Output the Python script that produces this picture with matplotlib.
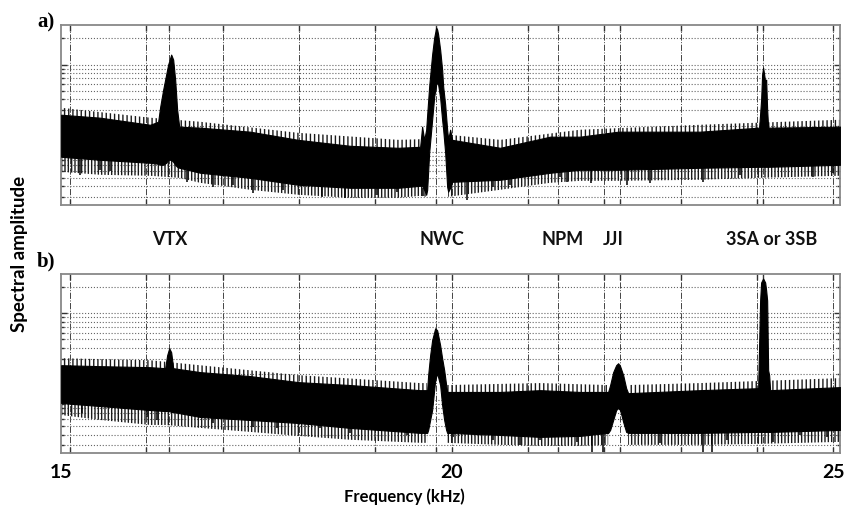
import numpy as np
import matplotlib.pyplot as plt
from matplotlib.ticker import LogLocator, NullFormatter, FixedLocator, FixedFormatter
from matplotlib.transforms import ScaledTranslation, blended_transform_factory

# spectrum envelope (frequency kHz, amplitude a.u.)
freq_a = [14.882, 15.393, 16.048, 16.153, 16.180, 16.219, 16.258, 16.284, 16.324, 16.350,
          16.376, 16.402, 16.429, 16.704, 17.359, 17.988, 18.670, 19.299, 19.587, 19.613,
          19.640, 19.666, 19.679, 19.705, 19.744, 19.771, 19.797, 19.810, 19.823, 19.849,
          19.875, 19.889, 19.915, 19.941, 19.954, 19.980, 20.007, 20.636, 21.291, 21.684,
          22.182, 23.256, 24.030, 24.056, 24.069, 24.082, 24.096, 24.109, 24.122, 24.135,
          24.148, 25.092]
upper_a = [0.266, 0.246, 0.204, 0.221, 0.329, 0.516, 0.767, 1.000, 1.303, 1.142,
           0.673, 0.304, 0.194, 0.189, 0.170, 0.137, 0.117, 0.111, 0.114, 0.194,
           0.137, 0.179, 0.266, 0.559, 1.303, 2.043, 2.662, 2.525, 2.214, 1.487,
           0.876, 0.559, 0.347, 0.179, 0.137, 0.179, 0.137, 0.111, 0.149, 0.149,
           0.170, 0.170, 0.189, 0.396, 0.767, 0.924, 0.767, 0.638, 0.673, 0.304,
           0.189, 0.194]
lower_a = [0.0876, 0.0809, 0.0747, 0.0728, 0.0709, 0.0709, 0.0747, 0.0809, 0.0809, 0.0767,
           0.0709, 0.0672, 0.0655, 0.0574, 0.0502, 0.0418, 0.0386, 0.0386, 0.0407, 0.0407,
           0.0366, 0.0321, 0.0366, 0.0974, 0.233, 0.429, 0.589, 0.621, 0.589, 0.418,
           0.233, 0.179, 0.0974, 0.0396, 0.0348, 0.0386, 0.0452, 0.0477, 0.0574, 0.0621,
           0.0621, 0.0655, 0.0672, 0.0672, 0.0672, 0.0672, 0.0672, 0.0672, 0.0672, 0.0672,
           0.0672, 0.0709]
# how far the dense downward noise reaches below the band, panel a (one list per stretch)
fringe_f_a = [[14.882, 15.393, 16.048, 16.429, 16.704, 17.359, 17.988, 18.670, 19.299, 19.587, 19.666],
              [19.954, 20.636, 21.291, 21.684, 22.182, 23.256, 24.030, 25.092]]
fringe_v_a = [[0.0589, 0.0544, 0.0530, 0.0502, 0.0440, 0.0366, 0.0321, 0.0296, 0.0296, 0.0312, 0.0304],
              [0.0304, 0.0366, 0.0440, 0.0464, 0.0464, 0.0477, 0.0502, 0.0530]]
# how far the noise reaches above the band, panel a
top_f_a = [[14.882, 16.048, 16.704, 17.988, 19.299, 19.666],
           [19.954, 20.636, 21.684, 23.256, 25.092]]
top_v_a = [[0.320, 0.246, 0.221, 0.165, 0.137, 0.140],
           [0.157, 0.137, 0.179, 0.204, 0.233]]
# deepest single downward excursions, panel a
spike_f_a = [15.13, 15.39, 15.52, 16.53, 16.87, 17.14, 17.40, 17.79, 18.30, 18.60,
             19.02, 19.29, 19.63, 20.20, 20.54, 20.77, 21.42, 21.51, 21.82, 22.30,
             22.60, 23.30, 23.78, 24.74, 25.00]
spike_v_a = [0.0544, 0.0621, 0.0600, 0.0452, 0.0396, 0.0418, 0.0338, 0.0366, 0.0305, 0.0296,
             0.0321, 0.0348, 0.0313, 0.0280, 0.0396, 0.0418, 0.0515, 0.0452, 0.0440, 0.0418,
             0.0440, 0.0452, 0.0544, 0.0515, 0.0574]

# spectrum envelope
freq_b = [14.882, 15.393, 16.048, 16.245, 16.271, 16.298, 16.324, 16.350, 16.704, 17.359,
          17.988, 18.670, 19.587, 19.679, 19.692, 19.718, 19.744, 19.784, 19.810, 19.849,
          19.875, 19.902, 19.928, 19.941, 20.636, 21.160, 21.684, 22.051, 22.077, 22.117,
          22.156, 22.182, 22.208, 22.248, 22.287, 22.313, 23.256, 24.017, 24.043, 24.056,
          24.082, 24.109, 24.122, 24.135, 24.148, 24.161, 24.174, 25.092]
upper_b = [0.2525, 0.246, 0.2394, 0.2332, 0.329, 0.396, 0.356, 0.2332, 0.210, 0.189,
           0.161, 0.149, 0.130, 0.130, 0.194, 0.329, 0.490, 0.673, 0.638, 0.429,
           0.304, 0.221, 0.149, 0.124, 0.124, 0.130, 0.124, 0.124, 0.149, 0.210,
           0.2525, 0.266, 0.246, 0.194, 0.137, 0.120, 0.130, 0.137, 1.411, 2.271,
           2.525, 2.271, 1.838, 1.411, 0.221, 0.194, 0.130, 0.141]
lower_b = [0.0924, 0.0853, 0.0767, 0.0747, 0.0747, 0.0747, 0.0728, 0.0728, 0.0638, 0.0589,
           0.0544, 0.0477, 0.0418, 0.0418, 0.0452, 0.0589, 0.0767, 0.170, 0.204, 0.149,
           0.0876, 0.0589, 0.0452, 0.0418, 0.0396, 0.0376, 0.0386, 0.0418, 0.0452, 0.0589,
           0.0767, 0.0809, 0.0767, 0.0559, 0.0429, 0.0418, 0.0418, 0.0429, 0.0429, 0.0429,
           0.0429, 0.0429, 0.0429, 0.0429, 0.0429, 0.0429, 0.0429, 0.0452]
fringe_f_b = [[14.882, 15.393, 16.048, 16.245, 16.704, 17.359, 17.988, 18.670, 19.587, 19.679],
              [19.941, 20.636, 21.160, 21.684, 22.051],
              [22.313, 23.256, 24.017, 25.092]]
fringe_v_b = [[0.0672, 0.0589, 0.0516, 0.0516, 0.0477, 0.0429, 0.0386, 0.0348, 0.0321, 0.0321],
              [0.0321, 0.0304, 0.0296, 0.0296, 0.0304],
              [0.0304, 0.0304, 0.0312, 0.0329]]
top_f_b = [[14.882, 16.048, 17.988, 19.587, 19.679],
           [19.941, 21.160, 22.051],
           [22.313, 23.256, 25.092]]
top_v_b = [[0.304, 0.288, 0.194, 0.157, 0.157],
           [0.149, 0.157, 0.149],
           [0.149, 0.157, 0.179]]
spike_f_b = [15.16, 16.01, 16.14, 16.87, 17.40, 17.71, 18.28, 18.67, 19.42, 20.02,
             20.54, 20.90, 21.16, 21.64, 21.84, 21.99, 22.73, 23.30, 23.41, 23.61,
             24.21, 24.57, 24.92]
spike_v_b = [0.0709, 0.0638, 0.0591, 0.0544, 0.0490, 0.0477, 0.0477, 0.0418, 0.0397, 0.0376,
             0.0348, 0.0304, 0.0348, 0.0330, 0.0253, 0.0253, 0.0321, 0.0250, 0.0250, 0.0348,
             0.0330, 0.0397, 0.0376]

# grid lines: every kHz plus the transmitter frequencies
grid_freqs = [15, 16, 17, 18, 19, 20, 21, 22, 23, 24, 25]
station_freqs = [16.3, 19.8, 21.4, 22.2, 24.08]
station_names = ["VTX", "NWC", "NPM", "JJI", "3SA or 3SB"]
station_label_x = [16.31, 19.87, 21.45, 22.12, 24.20]
tick_labels = {15: "15", 20: "20", 25: "25"}

plt.rcParams['font.family'] = ['Lato', 'DejaVu Sans']
plt.rcParams['hatch.linewidth'] = 1.0

fig = plt.figure(figsize=(8.51, 5.08), dpi=100)
ax_a = fig.add_axes([0.0717, 0.5965, 0.9154, 0.3543])
ax_b = fig.add_axes([0.0717, 0.1083, 0.9154, 0.3524])

panels = [(ax_a, freq_a, upper_a, lower_a, fringe_f_a, fringe_v_a, top_f_a, top_v_a, spike_f_a, spike_v_a),
          (ax_b, freq_b, upper_b, lower_b, fringe_f_b, fringe_v_b, top_f_b, top_v_b, spike_f_b, spike_v_b)]
for ax, f, up, lo, ff, fv, tf, tv, sf, sv in panels:
    mid = np.sqrt(np.array(up) * np.array(lo))
    # noisy fringes below and above the solid band
    for seg_f, seg_v in zip(ff, fv):
        ax.fill_between(seg_f, seg_v, np.interp(seg_f, f, mid), facecolor="none",
                        edgecolor="#1a1a1a", hatch="|||||", lw=0, zorder=2)
    for seg_f, seg_v in zip(tf, tv):
        ax.fill_between(seg_f, np.interp(seg_f, f, mid), seg_v, facecolor="none",
                        edgecolor="#1a1a1a", hatch="||||", lw=0, zorder=2)
    ax.fill_between(f, lo, up, color="black", lw=0.8, zorder=3)
    ax.vlines(sf, sv, np.interp(sf, f, lo), color="black", lw=1.1, zorder=3)
    ax.set_yscale("log")
    ax.set_xlim(14.88, 25.09)
    ax.set_ylim(0.0245, 2.85)
    ax.yaxis.set_major_locator(LogLocator(base=10))
    ax.yaxis.set_minor_locator(LogLocator(base=10, subs=range(2, 10)))
    ax.yaxis.set_major_formatter(NullFormatter())
    ax.yaxis.set_minor_formatter(NullFormatter())
    ax.grid(True, which="both", axis="y", ls=":", color="#666666", lw=0.8, zorder=1)
    for g in grid_freqs + station_freqs:
        ax.axvline(g, ls="-.", color="#444444", lw=0.7, zorder=1)
    xt = sorted(grid_freqs + station_freqs)
    ax.xaxis.set_major_locator(FixedLocator(xt))
    ax.xaxis.set_major_formatter(FixedFormatter([tick_labels.get(t, "") if ax is ax_b else "" for t in xt]))
    ax.tick_params(axis="both", which="both", direction="in", top=True, right=True,
                   length=4, width=1.0, color="#333333")
    ax.tick_params(axis="y", which="minor", length=2)
    ax.tick_params(axis="x", pad=8, labelsize=14)
    for s in ax.spines.values():
        s.set_color("#888888")
        s.set_linewidth(1.3)

for lab in ax_b.get_xticklabels():
    lab.set_fontweight("bold")
    if lab.get_text() == "15":
        lab.set_transform(lab.get_transform() + ScaledTranslation(-0.09, 0, fig.dpi_scale_trans))

trans = blended_transform_factory(ax_a.transData, ax_a.transAxes)
for name, x in zip(station_names, station_label_x):
    ax_a.text(x, -0.19, name, transform=trans, ha="center", va="center",
              fontsize=13, fontweight="bold", color="#111111")

fig.text(0.054, 0.955, "a)", family="Liberation Serif", fontsize=15, fontweight="bold",
         ha="center", va="center")
fig.text(0.054, 0.486, "b)", family="Liberation Serif", fontsize=15, fontweight="bold",
         ha="center", va="center")
fig.text(0.023, 0.50, "Spectral amplitude", rotation=90, ha="center", va="center",
         fontsize=13.5, fontweight="bold")
fig.text(0.475, 0.022, "Frequency (kHz)", ha="center", va="center",
         fontsize=12, fontweight="bold")

fig.savefig("out.png", dpi=100)
